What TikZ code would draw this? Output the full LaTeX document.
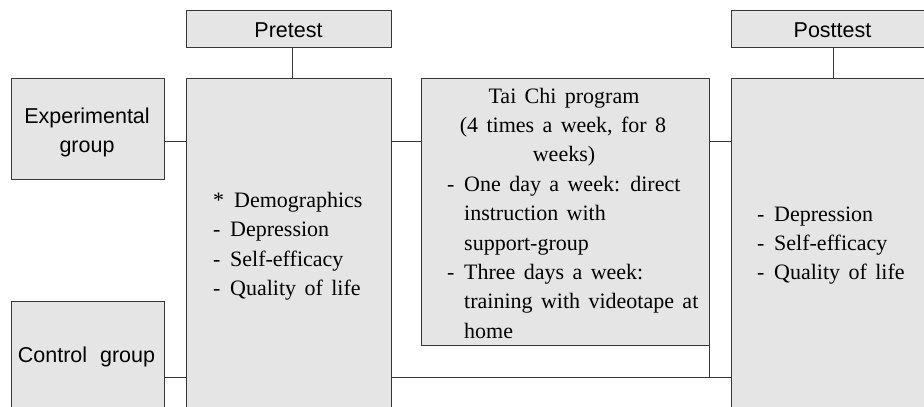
\documentclass[tikz,border=0pt]{standalone}
\usepackage{fontspec}
\setmainfont{Liberation Serif}
\setsansfont{Liberation Sans}
\definecolor{boxfill}{RGB}{229,229,229}
\definecolor{edge}{RGB}{55,55,55}
\newcommand\myserifset{\rmfamily\fontsize{22}{29.4}\selectfont\setlength{\spaceskip}{8.4pt}}
\newcommand\mysansset{\sffamily\fontsize{21.5}{29}\selectfont}
\begin{document}
\begin{tikzpicture}[x=1pt,y=-1pt,
  box/.style={draw=edge, fill=boxfill, line width=0.9pt, inner sep=0pt, outer sep=0pt, anchor=north west},
  link/.style={draw=edge, line width=0.9pt},
  sanslbl/.style={font=\mysansset, inner sep=0pt, anchor=base},
  seriftxt/.style={font=\myserifset, inner sep=0pt, anchor=base west},
  serifctr/.style={seriftxt, anchor=base},
]
\useasboundingbox (0,0) rectangle (924,407);
% boxes
\node[box, minimum width=205pt, minimum height=37pt] (preS) at (186,10) {};
\node[box, minimum width=204pt, minimum height=37pt] (postS) at (731,10) {};
\node[box, minimum width=205pt, minimum height=345pt] (preB) at (186,78) {};
\node[box, minimum width=204pt, minimum height=345pt] (postB) at (731,78) {};
\node[box, minimum width=153pt, minimum height=101pt] (exp) at (11,78) {};
\node[box, minimum width=153pt, minimum height=120pt] (ctrl) at (11,301) {};
\node[box, minimum width=288pt, minimum height=267pt] (tai) at (421,78) {};
% row coordinates
\coordinate (rowA) at (0,141);
\coordinate (rowB) at (0,377);
% connectors
\draw[link] ([xshift=3.5pt]preS.south) -- ([xshift=3.5pt]preS.south |- preB.north);
\draw[link] (postS.south) -- (postS.south |- postB.north);
\draw[link] (rowA -| exp.east) -- (rowA -| preB.west);
\draw[link] (rowA -| preB.east) -- (rowA -| tai.west);
\draw[link] (rowA -| tai.east) -- (rowA -| postB.west);
\draw[link] (rowB -| ctrl.east) -- (rowB -| preB.west);
\draw[link] (rowB -| preB.east) -- (rowB -| postB.west);
\draw[link] (tai.south east) -- (tai.south east |- rowB);
% sans labels
\node[sanslbl] (preT) at (288.5,37) {Pretest};
\node[sanslbl] (postT) at (832.5,37) {Posttest};
\node[sanslbl] (expT1) at (87,123) {Experimental};
\node[sanslbl] (expT2) at (87,152) {group};
\node[sanslbl] (ctrlT) at (86.5,362) {Control\hspace{7pt} group};
% pretest measures
\node[seriftxt] (pm1) at (213,207.5) {*\hspace{10pt}Demographics};
\node[seriftxt] (pm2) at (213,236.8) {-\hspace{9.7pt}Depression};
\node[seriftxt] (pm3) at (213,266.1) {-\hspace{9.7pt}Self-efficacy};
\node[seriftxt] (pm4) at (213,295.4) {-\hspace{9.7pt}Quality of life};
% posttest measures
\node[seriftxt] (qm1) at (757,221) {-\hspace{9.7pt}Depression};
\node[seriftxt] (qm2) at (757,250.4) {-\hspace{9.7pt}Self-efficacy};
\node[seriftxt] (qm3) at (757,279.8) {-\hspace{9.7pt}Quality of life};
% tai chi program
\node[serifctr] (tc1) at (564,103) {Tai Chi program};
\node[serifctr] (tc2) at (563,132.4) {(4 times a week, for 8};
\node[serifctr] (tc3) at (564,161.8) {weeks)};
\node[seriftxt] (tc4) at (447,191.2) {-\hspace{9.7pt}One day a week: direct};
\node[seriftxt] (tc5) at (464,220.6) {instruction with};
\node[seriftxt] (tc6) at (464,250) {support-group};
\node[seriftxt] (tc7) at (447,279.4) {-\hspace{9.7pt}Three days a week:};
\node[seriftxt] (tc8) at (464,308.8) {training with videotape at};
\node[seriftxt] (tc9) at (464,338.2) {home};
\end{tikzpicture}
\end{document}
